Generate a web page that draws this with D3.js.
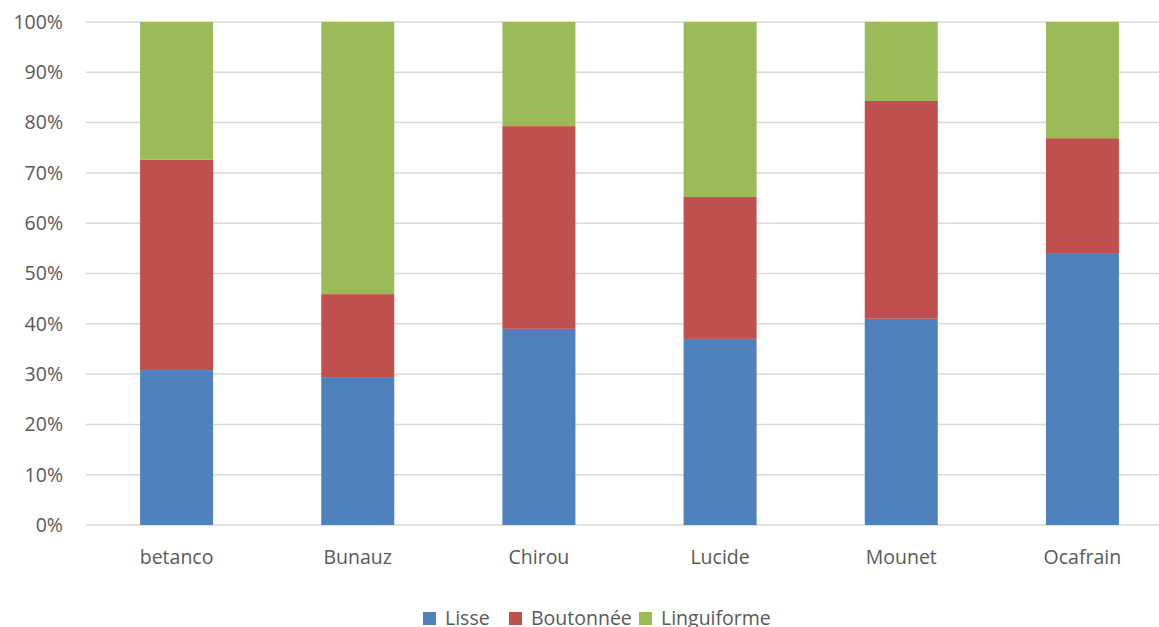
<!DOCTYPE html>
<html lang="fr">
<head>
<meta charset="UTF-8">
<title>Chart</title>
<script src="https://d3js.org/d3.v7.min.js"></script>
<style>
  * { margin: 0; padding: 0; }
  body { background: #fff; }
  text { font-family: "Open Sans", Lato, sans-serif; fill: #595959; }
</style>
</head>
<body>
<svg width="1159" height="627"></svg>
<script>
  var categories = ["betanco", "Bunauz", "Chirou", "Lucide", "Mounet", "Ocafrain"];
  var seriesNames = ["Lisse", "Boutonnée", "Linguiforme"];
  var lisse = [30.8, 29.4, 39.0, 37.0, 41.0, 53.9];
  var boutonnee = [41.8, 16.5, 40.3, 28.2, 43.3, 23.0];
  var linguiforme = [27.4, 54.1, 20.7, 34.8, 15.7, 23.1];
  var tickValues = [0, 0.1, 0.2, 0.3, 0.4, 0.5, 0.6, 0.7, 0.8, 0.9, 1];
  var colors = ["#4f81bd", "#c0504d", "#9bbb59"];

  var svg = d3.select("svg");
  var plotTop = 22, plotBottom = 525, plotLeft = 86, plotRight = 1173;

  var rows = categories.map(function (c, i) {
    var tot = lisse[i] + boutonnee[i] + linguiforme[i];
    return { cat: c, Lisse: lisse[i] / tot, "Boutonnée": boutonnee[i] / tot, Linguiforme: linguiforme[i] / tot };
  });

  var x = d3.scaleBand().domain(categories).range([plotLeft, plotRight]).paddingInner(0.597).paddingOuter(0.2985);
  var y = d3.scaleLinear().domain([0, 1]).range([plotBottom, plotTop]);

  // grid
  svg.append("g").selectAll("line").data(tickValues).enter().append("line")
    .attr("x1", plotLeft).attr("x2", plotRight)
    .attr("y1", function (d) { return y(d); }).attr("y2", function (d) { return y(d); })
    .attr("stroke", "#d9d9d9").attr("stroke-width", 1.5);

  // y labels
  svg.append("g").selectAll("text").data(tickValues).enter().append("text")
    .attr("x", 63).attr("y", function (d) { return y(d); })
    .attr("dy", "0.35em").attr("text-anchor", "end")
    .style("font-size", "19.5px")
    .text(d3.format(".0%"));

  var stack = d3.stack().keys(seriesNames)(rows);

  svg.append("g").selectAll("g").data(stack).enter().append("g")
    .attr("fill", function (d, i) { return colors[i]; })
    .selectAll("rect").data(function (d) { return d; }).enter().append("rect")
    .attr("x", function (d) { return x(d.data.cat); })
    .attr("width", x.bandwidth())
    .attr("y", function (d) { return y(d[1]); })
    .attr("height", function (d) { return y(d[0]) - y(d[1]); });

  // x labels
  svg.append("g").selectAll("text").data(categories).enter().append("text")
    .attr("x", function (d) { return x(d) + x.bandwidth() / 2; })
    .attr("y", 557).attr("dy", "0.35em").attr("text-anchor", "middle")
    .style("font-size", "19.5px")
    .text(function (d) { return d; });

  // legend
  var legendX = [423, 509, 639];
  var lg = svg.append("g").selectAll("g").data(seriesNames).enter().append("g")
    .attr("transform", function (d, i) { return "translate(" + legendX[i] + ",612)"; });
  lg.append("rect").attr("width", 13).attr("height", 13)
    .attr("fill", function (d, i) { return colors[i]; });
  lg.append("text").attr("x", 22).attr("y", 6.5).attr("dy", "0.35em")
    .style("font-size", "19.5px")
    .text(function (d) { return d; });
</script>
</body>
</html>
